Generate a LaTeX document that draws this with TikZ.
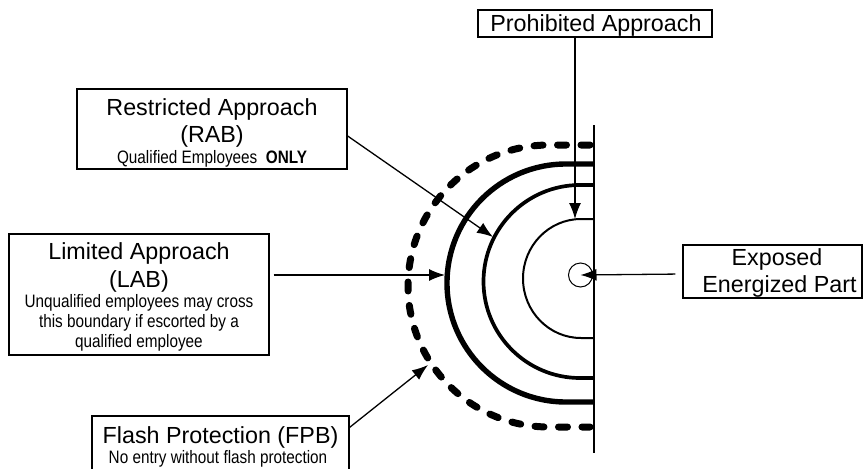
\documentclass[tikz,border=0pt]{standalone}
\usepackage{fontspec}
\setmainfont{Liberation Sans}
\newfontfamily\narrowsf[FakeStretch=0.85]{Liberation Sans}
\usetikzlibrary{arrows.meta}
\begin{document}
\begin{tikzpicture}[x=1pt,y=-1pt,
  big/.style={font=\fontsize{23.3}{28}\selectfont, inner sep=0pt, anchor=base},
  small/.style={font=\narrowsf\fontsize{18}{20}\selectfont, inner sep=0pt, anchor=base},
  box/.style={draw, line width=1.3pt, inner sep=0pt},
  arr/.style={line width=1.3pt, -{Latex[length=16pt,width=12pt]}},
  ring/.style={line width=#1}]
\useasboundingbox[fill=white] (0,0) rectangle (863,469);

% boundary line and energized part
\draw[line width=1.3pt] (594,125) -- (594,453);
\node[circle, draw, line width=1pt, minimum size=24pt, inner sep=0pt] (part) at (580.5,275) {};

% approach boundaries
\draw[ring=2pt] (594,219) -- (581,219) arc[start angle=270,end angle=90,x radius=58,y radius=59.5] -- (594,338);
\draw[ring=3.7pt] (594,185) -- (580,185) arc[start angle=270,end angle=90,x radius=96.5,y radius=96.5] -- (594,378);
\draw[ring=5.4pt] (594,164) -- (566,164) arc[start angle=270,end angle=90,x radius=119,y radius=119] -- (594,402);
\draw[ring=7pt, line cap=round, dash pattern=on 9pt off 14.5pt] (590,145) -- (549,145) arc[start angle=270,end angle=90,x radius=141,y radius=141] -- (590,427);

\coordinate (pa-tip) at (575,219);
\coordinate (rab-tip) at (493,237);
\coordinate (lab-tip) at (445,275);
\coordinate (fpb-tip) at (428,365);

% Prohibited Approach
\node[box, minimum width=234pt, minimum height=27pt] (pa) at (595,23.5) {};
\node[big] (pa-t) at (596,31.5) {Prohibited Approach};

% Restricted Approach
\node[box, minimum width=270pt, minimum height=80pt] (rab) at (212,129) {};
\node[big] (rab-t1) at (212,115) {Restricted Approach};
\node[big] (rab-t2) at (212,142) {(RAB)};
\node[small] (rab-t3) at (212,163) {Qualified Employees\ \ \textbf{ONLY}};

% Limited Approach
\node[box, minimum width=260pt, minimum height=121pt] (lab) at (139,294.5) {};
\node[big] (lab-t1) at (139,259) {Limited Approach};
\node[big] (lab-t2) at (139,287) {(LAB)};
\node[small] (lab-t3) at (139,307) {Unqualified employees may cross};
\node[small] (lab-t4) at (139,327) {this boundary if escorted by a};
\node[small] (lab-t5) at (139,347) {qualified employee};

% Flash Protection
\node[box, minimum width=257pt, minimum height=64pt] (fpb) at (220.5,448) {};
\node[big] (fpb-t1) at (220.5,443) {Flash Protection (FPB)};
\node[small] (fpb-t2) at (218,463) {No entry without flash protection};

% Exposed Energized Part
\node[box, minimum width=179pt, minimum height=53pt] (exp) at (772.5,271.5) {};
\node[big] (exp-t1) at (777,265) {Exposed};
\node[big] (exp-t2) at (779.5,292.5) {Energized Part};

% connectors
\draw[arr] (pa.south -| pa-tip) -- (pa-tip);
\draw[arr] ([yshift=-7pt]rab.east) -- (rab-tip);
\draw[arr, shorten <=4pt] (lab.east |- lab-tip) -- (lab-tip);
\draw[arr] ([yshift=-12pt]fpb.north east) -- (fpb-tip);
\draw[arr, shorten <=7pt] ([yshift=-2.5pt]exp.west) -- (part.center);
\end{tikzpicture}
\end{document}
